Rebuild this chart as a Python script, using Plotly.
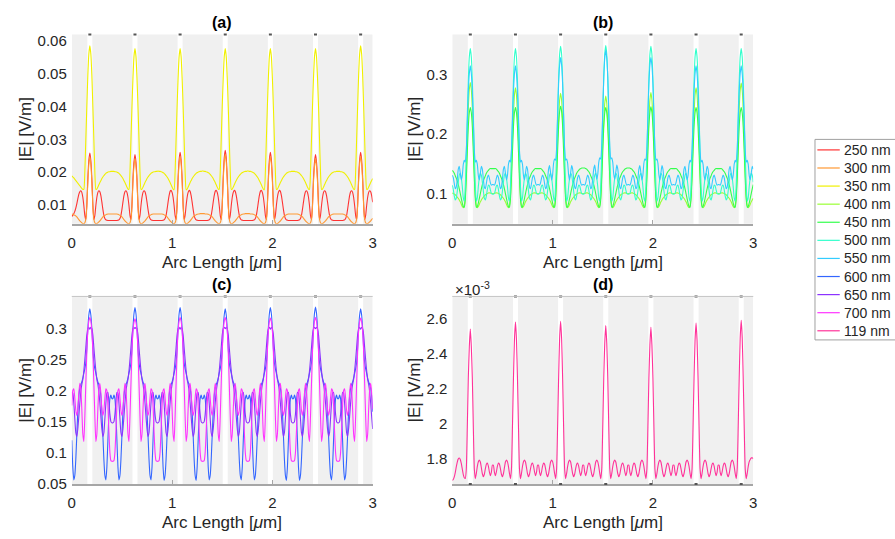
import numpy as np
import plotly.graph_objects as go

# Arc length along the surface, 0.01 µm steps
arc_length = np.round(np.arange(301) * 0.01, 2)

# |E| along the arc (V/m), one row per pillar period
e_250nm = [
    0.0065, 0.0068, 0.0073, 0.0080, 0.0090, 0.0103, 0.0118, 0.0132, 0.0140, 0.0143, 0.0138, 0.0123, 0.0098, 0.0068, 0.0055, 0.0100, 0.0180, 0.0236, 0.0258, 0.0236, 0.0180, 0.0100, 0.0055, 0.0068, 0.0098, 0.0123, 0.0138, 0.0143, 0.0140, 0.0128, 0.0108, 0.0086, 0.0068, 0.0058, 0.0054, 0.0053, 0.0052, 0.0052, 0.0052, 0.0052, 0.0052,
    0.0052, 0.0052, 0.0052, 0.0052, 0.0052, 0.0053, 0.0054, 0.0058, 0.0068, 0.0086, 0.0108, 0.0128, 0.0140, 0.0143, 0.0138, 0.0123, 0.0098, 0.0068, 0.0055, 0.0100, 0.0180, 0.0231, 0.0253, 0.0231, 0.0180, 0.0100, 0.0055, 0.0068, 0.0098, 0.0123, 0.0138, 0.0143, 0.0140, 0.0128, 0.0108, 0.0086, 0.0068, 0.0058, 0.0054, 0.0053, 0.0052, 0.0052, 0.0052, 0.0052, 0.0052,
    0.0052, 0.0052, 0.0052, 0.0052, 0.0052, 0.0053, 0.0054, 0.0058, 0.0068, 0.0086, 0.0108, 0.0128, 0.0141, 0.0144, 0.0138, 0.0123, 0.0098, 0.0068, 0.0055, 0.0100, 0.0182, 0.0238, 0.0260, 0.0238, 0.0182, 0.0100, 0.0055, 0.0068, 0.0098, 0.0123, 0.0138, 0.0144, 0.0141, 0.0128, 0.0108, 0.0086, 0.0068, 0.0058, 0.0054, 0.0053, 0.0052, 0.0052, 0.0052, 0.0052, 0.0052,
    0.0052, 0.0052, 0.0052, 0.0052, 0.0052, 0.0053, 0.0054, 0.0058, 0.0068, 0.0086, 0.0108, 0.0128, 0.0141, 0.0144, 0.0138, 0.0123, 0.0098, 0.0068, 0.0055, 0.0101, 0.0184, 0.0244, 0.0266, 0.0244, 0.0184, 0.0101, 0.0055, 0.0068, 0.0098, 0.0123, 0.0138, 0.0144, 0.0141, 0.0128, 0.0108, 0.0086, 0.0068, 0.0058, 0.0054, 0.0053, 0.0052, 0.0052, 0.0052, 0.0052, 0.0052,
    0.0052, 0.0052, 0.0052, 0.0052, 0.0052, 0.0053, 0.0054, 0.0058, 0.0068, 0.0086, 0.0108, 0.0128, 0.0141, 0.0144, 0.0138, 0.0123, 0.0098, 0.0068, 0.0055, 0.0100, 0.0182, 0.0238, 0.0260, 0.0238, 0.0182, 0.0100, 0.0055, 0.0068, 0.0098, 0.0123, 0.0138, 0.0144, 0.0141, 0.0128, 0.0108, 0.0086, 0.0068, 0.0058, 0.0054, 0.0053, 0.0052, 0.0052, 0.0052, 0.0052, 0.0052,
    0.0052, 0.0052, 0.0052, 0.0052, 0.0052, 0.0053, 0.0054, 0.0058, 0.0068, 0.0086, 0.0108, 0.0128, 0.0140, 0.0143, 0.0138, 0.0123, 0.0098, 0.0068, 0.0055, 0.0100, 0.0180, 0.0231, 0.0253, 0.0231, 0.0180, 0.0100, 0.0055, 0.0068, 0.0098, 0.0123, 0.0138, 0.0143, 0.0140, 0.0128, 0.0108, 0.0086, 0.0068, 0.0058, 0.0054, 0.0053, 0.0052, 0.0052, 0.0052, 0.0052, 0.0052,
    0.0052, 0.0052, 0.0052, 0.0052, 0.0052, 0.0053, 0.0054, 0.0058, 0.0068, 0.0086, 0.0108, 0.0128, 0.0140, 0.0143, 0.0138, 0.0123, 0.0098, 0.0068, 0.0055, 0.0100, 0.0182, 0.0238, 0.0260, 0.0238, 0.0182, 0.0100, 0.0055, 0.0068, 0.0098, 0.0123, 0.0138, 0.0143, 0.0140, 0.0128, 0.0108,
]

e_300nm = [
    0.0072, 0.0071, 0.0070, 0.0068, 0.0066, 0.0063, 0.0059, 0.0055, 0.0051, 0.0048, 0.0045, 0.0043, 0.0042, 0.0045, 0.0056, 0.0095, 0.0170, 0.0222, 0.0247, 0.0222, 0.0170, 0.0095, 0.0056, 0.0045, 0.0042, 0.0043, 0.0045, 0.0048, 0.0051, 0.0055, 0.0059, 0.0063, 0.0066, 0.0068, 0.0070, 0.0071, 0.0072, 0.0072, 0.0072, 0.0072, 0.0072,
    0.0072, 0.0072, 0.0072, 0.0072, 0.0072, 0.0071, 0.0070, 0.0068, 0.0066, 0.0063, 0.0059, 0.0055, 0.0051, 0.0048, 0.0045, 0.0043, 0.0042, 0.0045, 0.0056, 0.0095, 0.0170, 0.0217, 0.0242, 0.0217, 0.0170, 0.0095, 0.0056, 0.0045, 0.0042, 0.0043, 0.0045, 0.0048, 0.0051, 0.0055, 0.0059, 0.0063, 0.0066, 0.0068, 0.0070, 0.0071, 0.0072, 0.0072, 0.0072, 0.0072, 0.0072,
    0.0072, 0.0072, 0.0072, 0.0072, 0.0072, 0.0071, 0.0070, 0.0068, 0.0066, 0.0063, 0.0059, 0.0055, 0.0051, 0.0048, 0.0045, 0.0043, 0.0042, 0.0045, 0.0056, 0.0096, 0.0172, 0.0224, 0.0249, 0.0224, 0.0172, 0.0096, 0.0056, 0.0045, 0.0042, 0.0043, 0.0045, 0.0048, 0.0051, 0.0055, 0.0059, 0.0063, 0.0066, 0.0068, 0.0070, 0.0071, 0.0072, 0.0072, 0.0073, 0.0073, 0.0073,
    0.0073, 0.0073, 0.0072, 0.0072, 0.0072, 0.0071, 0.0070, 0.0068, 0.0066, 0.0063, 0.0059, 0.0055, 0.0051, 0.0048, 0.0045, 0.0043, 0.0042, 0.0045, 0.0057, 0.0097, 0.0175, 0.0230, 0.0255, 0.0230, 0.0175, 0.0097, 0.0057, 0.0045, 0.0042, 0.0043, 0.0045, 0.0048, 0.0051, 0.0055, 0.0059, 0.0063, 0.0066, 0.0068, 0.0070, 0.0071, 0.0072, 0.0072, 0.0073, 0.0073, 0.0073,
    0.0073, 0.0073, 0.0072, 0.0072, 0.0072, 0.0071, 0.0070, 0.0068, 0.0066, 0.0063, 0.0059, 0.0055, 0.0051, 0.0048, 0.0045, 0.0043, 0.0042, 0.0045, 0.0056, 0.0096, 0.0172, 0.0224, 0.0249, 0.0224, 0.0172, 0.0096, 0.0056, 0.0045, 0.0042, 0.0043, 0.0045, 0.0048, 0.0051, 0.0055, 0.0059, 0.0063, 0.0066, 0.0068, 0.0070, 0.0071, 0.0072, 0.0072, 0.0072, 0.0072, 0.0072,
    0.0072, 0.0072, 0.0072, 0.0072, 0.0072, 0.0071, 0.0070, 0.0068, 0.0066, 0.0063, 0.0059, 0.0055, 0.0051, 0.0048, 0.0045, 0.0043, 0.0042, 0.0045, 0.0056, 0.0095, 0.0170, 0.0217, 0.0242, 0.0217, 0.0170, 0.0095, 0.0056, 0.0045, 0.0042, 0.0043, 0.0045, 0.0048, 0.0051, 0.0055, 0.0059, 0.0063, 0.0066, 0.0068, 0.0070, 0.0071, 0.0072, 0.0072, 0.0072, 0.0072, 0.0072,
    0.0072, 0.0072, 0.0072, 0.0072, 0.0072, 0.0071, 0.0070, 0.0068, 0.0066, 0.0063, 0.0059, 0.0055, 0.0051, 0.0048, 0.0045, 0.0043, 0.0042, 0.0045, 0.0056, 0.0096, 0.0172, 0.0224, 0.0249, 0.0224, 0.0172, 0.0096, 0.0056, 0.0045, 0.0042, 0.0043, 0.0045, 0.0048, 0.0051, 0.0055, 0.0059,
]

e_350nm = [
    0.0188, 0.0185, 0.0182, 0.0178, 0.0174, 0.0170, 0.0166, 0.0162, 0.0158, 0.0154, 0.0150, 0.0147, 0.0147, 0.0200, 0.0300, 0.0400, 0.0495, 0.0560, 0.0585, 0.0560, 0.0495, 0.0400, 0.0300, 0.0200, 0.0147, 0.0148, 0.0154, 0.0161, 0.0168, 0.0174, 0.0180, 0.0185, 0.0189, 0.0193, 0.0196, 0.0198, 0.0200, 0.0201, 0.0201, 0.0202, 0.0202,
    0.0202, 0.0202, 0.0201, 0.0201, 0.0200, 0.0198, 0.0196, 0.0193, 0.0189, 0.0185, 0.0180, 0.0174, 0.0168, 0.0161, 0.0154, 0.0148, 0.0147, 0.0200, 0.0300, 0.0400, 0.0487, 0.0552, 0.0577, 0.0552, 0.0487, 0.0400, 0.0300, 0.0200, 0.0147, 0.0148, 0.0154, 0.0161, 0.0168, 0.0174, 0.0180, 0.0185, 0.0189, 0.0193, 0.0196, 0.0198, 0.0200, 0.0201, 0.0201, 0.0202, 0.0202,
    0.0203, 0.0202, 0.0202, 0.0201, 0.0200, 0.0198, 0.0196, 0.0193, 0.0189, 0.0185, 0.0180, 0.0174, 0.0168, 0.0161, 0.0154, 0.0148, 0.0146, 0.0200, 0.0300, 0.0400, 0.0487, 0.0552, 0.0577, 0.0552, 0.0487, 0.0400, 0.0300, 0.0200, 0.0146, 0.0148, 0.0154, 0.0161, 0.0168, 0.0174, 0.0180, 0.0185, 0.0189, 0.0193, 0.0196, 0.0198, 0.0200, 0.0201, 0.0202, 0.0202, 0.0203,
    0.0203, 0.0202, 0.0202, 0.0201, 0.0200, 0.0198, 0.0196, 0.0193, 0.0189, 0.0185, 0.0180, 0.0174, 0.0168, 0.0161, 0.0154, 0.0148, 0.0147, 0.0200, 0.0300, 0.0400, 0.0487, 0.0552, 0.0577, 0.0552, 0.0487, 0.0400, 0.0300, 0.0200, 0.0147, 0.0148, 0.0154, 0.0161, 0.0168, 0.0174, 0.0180, 0.0185, 0.0189, 0.0193, 0.0196, 0.0198, 0.0200, 0.0201, 0.0202, 0.0202, 0.0203,
    0.0203, 0.0202, 0.0202, 0.0201, 0.0200, 0.0198, 0.0196, 0.0193, 0.0189, 0.0185, 0.0180, 0.0174, 0.0168, 0.0161, 0.0154, 0.0148, 0.0146, 0.0200, 0.0300, 0.0400, 0.0487, 0.0552, 0.0577, 0.0552, 0.0487, 0.0400, 0.0300, 0.0200, 0.0147, 0.0148, 0.0154, 0.0161, 0.0168, 0.0174, 0.0180, 0.0185, 0.0189, 0.0193, 0.0196, 0.0198, 0.0200, 0.0201, 0.0201, 0.0202, 0.0202,
    0.0202, 0.0202, 0.0201, 0.0201, 0.0200, 0.0198, 0.0196, 0.0193, 0.0189, 0.0185, 0.0180, 0.0174, 0.0168, 0.0161, 0.0154, 0.0148, 0.0147, 0.0200, 0.0300, 0.0400, 0.0487, 0.0552, 0.0577, 0.0552, 0.0487, 0.0400, 0.0300, 0.0200, 0.0147, 0.0148, 0.0154, 0.0161, 0.0168, 0.0174, 0.0180, 0.0185, 0.0189, 0.0193, 0.0196, 0.0198, 0.0200, 0.0201, 0.0201, 0.0202, 0.0202,
    0.0202, 0.0202, 0.0201, 0.0201, 0.0200, 0.0198, 0.0196, 0.0193, 0.0189, 0.0185, 0.0180, 0.0174, 0.0168, 0.0161, 0.0154, 0.0148, 0.0147, 0.0200, 0.0300, 0.0400, 0.0495, 0.0560, 0.0585, 0.0560, 0.0495, 0.0400, 0.0300, 0.0200, 0.0147, 0.0148, 0.0154, 0.0161, 0.0168, 0.0174, 0.0180,
]

e_400nm = [
    0.101, 0.100, 0.099, 0.098, 0.096, 0.094, 0.092, 0.089, 0.086, 0.082, 0.078, 0.076, 0.080, 0.096, 0.136, 0.190, 0.242, 0.275, 0.287, 0.275, 0.242, 0.190, 0.136, 0.096, 0.080, 0.076, 0.078, 0.082, 0.086, 0.089, 0.092, 0.094, 0.096, 0.098, 0.099, 0.100, 0.101, 0.101, 0.101, 0.100, 0.100,
    0.100, 0.100, 0.101, 0.101, 0.101, 0.100, 0.099, 0.098, 0.096, 0.094, 0.092, 0.089, 0.086, 0.082, 0.078, 0.076, 0.080, 0.096, 0.136, 0.190, 0.233, 0.266, 0.278, 0.266, 0.233, 0.190, 0.136, 0.096, 0.080, 0.076, 0.078, 0.082, 0.086, 0.089, 0.092, 0.094, 0.096, 0.098, 0.099, 0.100, 0.101, 0.101, 0.101, 0.100, 0.100,
    0.100, 0.100, 0.101, 0.101, 0.101, 0.100, 0.099, 0.098, 0.096, 0.094, 0.092, 0.089, 0.086, 0.082, 0.078, 0.076, 0.080, 0.096, 0.136, 0.188, 0.224, 0.257, 0.269, 0.257, 0.224, 0.188, 0.136, 0.096, 0.080, 0.076, 0.078, 0.082, 0.086, 0.089, 0.092, 0.094, 0.096, 0.098, 0.099, 0.100, 0.101, 0.101, 0.101, 0.100, 0.100,
    0.100, 0.100, 0.101, 0.101, 0.101, 0.100, 0.099, 0.098, 0.096, 0.094, 0.092, 0.089, 0.086, 0.082, 0.078, 0.076, 0.080, 0.096, 0.135, 0.186, 0.219, 0.252, 0.264, 0.252, 0.219, 0.186, 0.135, 0.096, 0.080, 0.076, 0.078, 0.082, 0.086, 0.089, 0.092, 0.094, 0.096, 0.098, 0.099, 0.100, 0.101, 0.101, 0.101, 0.100, 0.100,
    0.100, 0.100, 0.101, 0.101, 0.101, 0.100, 0.099, 0.098, 0.096, 0.094, 0.092, 0.089, 0.086, 0.082, 0.078, 0.076, 0.080, 0.096, 0.136, 0.188, 0.225, 0.258, 0.270, 0.258, 0.225, 0.188, 0.136, 0.096, 0.080, 0.076, 0.078, 0.082, 0.086, 0.089, 0.092, 0.094, 0.096, 0.098, 0.099, 0.100, 0.101, 0.101, 0.101, 0.100, 0.100,
    0.100, 0.100, 0.101, 0.101, 0.101, 0.100, 0.099, 0.098, 0.096, 0.094, 0.092, 0.089, 0.086, 0.082, 0.078, 0.076, 0.080, 0.096, 0.136, 0.190, 0.233, 0.266, 0.278, 0.266, 0.233, 0.190, 0.136, 0.096, 0.080, 0.076, 0.078, 0.082, 0.086, 0.089, 0.092, 0.094, 0.096, 0.098, 0.099, 0.100, 0.101, 0.101, 0.101, 0.100, 0.100,
    0.100, 0.100, 0.101, 0.101, 0.101, 0.100, 0.099, 0.098, 0.096, 0.094, 0.092, 0.089, 0.086, 0.082, 0.078, 0.076, 0.080, 0.096, 0.136, 0.190, 0.241, 0.274, 0.286, 0.274, 0.241, 0.190, 0.136, 0.096, 0.080, 0.076, 0.078, 0.082, 0.086, 0.089, 0.092,
]

e_450nm = [
    0.139, 0.137, 0.134, 0.130, 0.126, 0.121, 0.115, 0.108, 0.100, 0.092, 0.084, 0.078, 0.077, 0.091, 0.126, 0.170, 0.212, 0.236, 0.245, 0.236, 0.212, 0.170, 0.126, 0.091, 0.077, 0.078, 0.084, 0.092, 0.100, 0.108, 0.115, 0.121, 0.126, 0.130, 0.134, 0.137, 0.139, 0.141, 0.142, 0.142, 0.142,
    0.142, 0.142, 0.142, 0.141, 0.139, 0.137, 0.134, 0.130, 0.126, 0.121, 0.115, 0.108, 0.100, 0.092, 0.084, 0.078, 0.077, 0.091, 0.126, 0.170, 0.212, 0.236, 0.245, 0.236, 0.212, 0.170, 0.126, 0.091, 0.077, 0.078, 0.084, 0.092, 0.100, 0.108, 0.115, 0.121, 0.126, 0.130, 0.134, 0.137, 0.139, 0.141, 0.142, 0.142, 0.142,
    0.142, 0.142, 0.142, 0.141, 0.139, 0.137, 0.134, 0.130, 0.126, 0.121, 0.115, 0.108, 0.100, 0.092, 0.084, 0.078, 0.077, 0.091, 0.126, 0.171, 0.213, 0.238, 0.247, 0.238, 0.213, 0.171, 0.126, 0.091, 0.077, 0.078, 0.084, 0.092, 0.100, 0.108, 0.115, 0.121, 0.126, 0.130, 0.134, 0.137, 0.139, 0.141, 0.142, 0.143, 0.143,
    0.143, 0.143, 0.142, 0.141, 0.139, 0.137, 0.134, 0.130, 0.126, 0.121, 0.115, 0.108, 0.100, 0.092, 0.084, 0.078, 0.077, 0.091, 0.126, 0.170, 0.212, 0.236, 0.245, 0.236, 0.212, 0.170, 0.126, 0.091, 0.077, 0.078, 0.084, 0.092, 0.100, 0.108, 0.115, 0.121, 0.126, 0.130, 0.134, 0.137, 0.139, 0.141, 0.142, 0.143, 0.143,
    0.143, 0.143, 0.142, 0.141, 0.139, 0.137, 0.134, 0.130, 0.126, 0.121, 0.115, 0.108, 0.100, 0.092, 0.084, 0.078, 0.077, 0.091, 0.126, 0.170, 0.213, 0.237, 0.246, 0.237, 0.213, 0.170, 0.126, 0.091, 0.077, 0.078, 0.084, 0.092, 0.100, 0.108, 0.115, 0.121, 0.126, 0.130, 0.134, 0.137, 0.139, 0.141, 0.142, 0.142, 0.142,
    0.142, 0.142, 0.142, 0.141, 0.139, 0.137, 0.134, 0.130, 0.126, 0.121, 0.115, 0.108, 0.100, 0.092, 0.084, 0.078, 0.077, 0.091, 0.126, 0.170, 0.212, 0.236, 0.245, 0.236, 0.212, 0.170, 0.126, 0.091, 0.077, 0.078, 0.084, 0.092, 0.100, 0.108, 0.115, 0.121, 0.126, 0.130, 0.134, 0.137, 0.139, 0.141, 0.142, 0.142, 0.142,
    0.142, 0.142, 0.142, 0.141, 0.139, 0.137, 0.134, 0.130, 0.126, 0.121, 0.115, 0.108, 0.100, 0.092, 0.084, 0.078, 0.077, 0.091, 0.126, 0.170, 0.212, 0.236, 0.245, 0.236, 0.212, 0.170, 0.126, 0.091, 0.077, 0.078, 0.084, 0.092, 0.100, 0.108, 0.115,
]

e_500nm = [
    0.114, 0.107, 0.096, 0.089, 0.092, 0.104, 0.119, 0.131, 0.134, 0.127, 0.112, 0.093, 0.087, 0.112, 0.168, 0.232, 0.290, 0.330, 0.344, 0.330, 0.290, 0.232, 0.168, 0.112, 0.087, 0.093, 0.112, 0.127, 0.134, 0.131, 0.119, 0.104, 0.092, 0.089, 0.096, 0.107, 0.114, 0.113, 0.106, 0.100, 0.099,
    0.099, 0.100, 0.106, 0.113, 0.114, 0.107, 0.096, 0.089, 0.092, 0.104, 0.119, 0.131, 0.134, 0.127, 0.112, 0.093, 0.087, 0.112, 0.168, 0.232, 0.290, 0.330, 0.344, 0.330, 0.290, 0.232, 0.168, 0.112, 0.087, 0.093, 0.112, 0.127, 0.134, 0.131, 0.119, 0.104, 0.092, 0.089, 0.096, 0.107, 0.114, 0.113, 0.106, 0.100, 0.099,
    0.099, 0.100, 0.106, 0.113, 0.114, 0.107, 0.096, 0.089, 0.092, 0.104, 0.119, 0.131, 0.134, 0.127, 0.112, 0.093, 0.087, 0.112, 0.169, 0.234, 0.293, 0.334, 0.348, 0.334, 0.293, 0.234, 0.169, 0.112, 0.087, 0.093, 0.112, 0.127, 0.134, 0.131, 0.119, 0.104, 0.092, 0.089, 0.096, 0.107, 0.114, 0.113, 0.106, 0.100, 0.099,
    0.099, 0.100, 0.106, 0.113, 0.114, 0.107, 0.096, 0.089, 0.092, 0.104, 0.119, 0.131, 0.134, 0.127, 0.112, 0.093, 0.087, 0.112, 0.169, 0.235, 0.294, 0.335, 0.349, 0.335, 0.294, 0.235, 0.169, 0.112, 0.087, 0.093, 0.112, 0.127, 0.134, 0.131, 0.119, 0.104, 0.092, 0.089, 0.096, 0.107, 0.114, 0.113, 0.106, 0.100, 0.099,
    0.099, 0.100, 0.106, 0.113, 0.114, 0.107, 0.096, 0.089, 0.092, 0.104, 0.119, 0.131, 0.134, 0.127, 0.112, 0.093, 0.087, 0.112, 0.169, 0.234, 0.293, 0.334, 0.348, 0.334, 0.293, 0.234, 0.169, 0.112, 0.087, 0.093, 0.112, 0.127, 0.134, 0.131, 0.119, 0.104, 0.092, 0.089, 0.096, 0.107, 0.114, 0.113, 0.106, 0.100, 0.099,
    0.099, 0.100, 0.106, 0.113, 0.114, 0.107, 0.096, 0.089, 0.092, 0.104, 0.119, 0.131, 0.134, 0.127, 0.112, 0.093, 0.087, 0.112, 0.168, 0.232, 0.290, 0.330, 0.344, 0.330, 0.290, 0.232, 0.168, 0.112, 0.087, 0.093, 0.112, 0.127, 0.134, 0.131, 0.119, 0.104, 0.092, 0.089, 0.096, 0.107, 0.114, 0.113, 0.106, 0.100, 0.099,
    0.099, 0.100, 0.106, 0.113, 0.114, 0.107, 0.096, 0.089, 0.092, 0.104, 0.119, 0.131, 0.134, 0.127, 0.112, 0.093, 0.087, 0.112, 0.168, 0.232, 0.290, 0.330, 0.344, 0.330, 0.290, 0.232, 0.168, 0.112, 0.087, 0.093, 0.112, 0.127, 0.134, 0.131, 0.119,
]

e_550nm = [
    0.131, 0.127, 0.117, 0.108, 0.111, 0.124, 0.141, 0.146, 0.134, 0.123, 0.130, 0.149, 0.156, 0.153, 0.172, 0.220, 0.270, 0.302, 0.315, 0.302, 0.270, 0.220, 0.172, 0.153, 0.156, 0.149, 0.130, 0.123, 0.134, 0.146, 0.141, 0.124, 0.111, 0.108, 0.117, 0.127, 0.131, 0.126, 0.118, 0.114, 0.115,
    0.115, 0.114, 0.118, 0.126, 0.131, 0.127, 0.117, 0.108, 0.111, 0.124, 0.141, 0.146, 0.134, 0.123, 0.130, 0.149, 0.156, 0.153, 0.172, 0.220, 0.270, 0.302, 0.315, 0.302, 0.270, 0.220, 0.172, 0.153, 0.156, 0.149, 0.130, 0.123, 0.134, 0.146, 0.141, 0.124, 0.111, 0.108, 0.117, 0.127, 0.131, 0.126, 0.118, 0.114, 0.115,
    0.115, 0.114, 0.118, 0.126, 0.131, 0.127, 0.117, 0.108, 0.111, 0.124, 0.141, 0.147, 0.135, 0.123, 0.131, 0.151, 0.158, 0.156, 0.176, 0.228, 0.284, 0.316, 0.329, 0.316, 0.284, 0.228, 0.176, 0.156, 0.158, 0.151, 0.131, 0.123, 0.135, 0.147, 0.141, 0.124, 0.111, 0.108, 0.117, 0.127, 0.131, 0.126, 0.118, 0.114, 0.115,
    0.115, 0.114, 0.118, 0.126, 0.131, 0.127, 0.117, 0.108, 0.111, 0.124, 0.141, 0.148, 0.136, 0.124, 0.132, 0.152, 0.160, 0.158, 0.180, 0.236, 0.296, 0.328, 0.341, 0.328, 0.296, 0.236, 0.180, 0.158, 0.160, 0.152, 0.132, 0.124, 0.136, 0.148, 0.141, 0.124, 0.111, 0.108, 0.117, 0.127, 0.131, 0.126, 0.118, 0.114, 0.115,
    0.115, 0.114, 0.118, 0.126, 0.131, 0.127, 0.117, 0.108, 0.111, 0.124, 0.141, 0.147, 0.135, 0.123, 0.131, 0.151, 0.158, 0.156, 0.176, 0.228, 0.284, 0.316, 0.329, 0.316, 0.284, 0.228, 0.176, 0.156, 0.158, 0.151, 0.131, 0.123, 0.135, 0.147, 0.141, 0.124, 0.111, 0.108, 0.117, 0.127, 0.131, 0.126, 0.118, 0.114, 0.115,
    0.115, 0.114, 0.118, 0.126, 0.131, 0.127, 0.117, 0.108, 0.111, 0.124, 0.141, 0.146, 0.134, 0.123, 0.130, 0.149, 0.156, 0.153, 0.172, 0.220, 0.270, 0.302, 0.315, 0.302, 0.270, 0.220, 0.172, 0.153, 0.156, 0.149, 0.130, 0.123, 0.134, 0.146, 0.141, 0.124, 0.111, 0.108, 0.117, 0.127, 0.131, 0.126, 0.118, 0.114, 0.115,
    0.115, 0.114, 0.118, 0.126, 0.131, 0.127, 0.117, 0.108, 0.111, 0.124, 0.141, 0.146, 0.134, 0.123, 0.130, 0.149, 0.156, 0.153, 0.172, 0.220, 0.270, 0.302, 0.315, 0.302, 0.270, 0.220, 0.172, 0.153, 0.156, 0.149, 0.130, 0.123, 0.134, 0.146, 0.141,
]

e_600nm = [
    0.120, 0.077, 0.056, 0.063, 0.089, 0.128, 0.166, 0.191, 0.204, 0.210, 0.214, 0.220, 0.228, 0.235, 0.245, 0.268, 0.300, 0.322, 0.332, 0.322, 0.300, 0.268, 0.245, 0.235, 0.228, 0.220, 0.214, 0.210, 0.204, 0.191, 0.166, 0.128, 0.089, 0.063, 0.056, 0.077, 0.120, 0.162, 0.187, 0.193, 0.187,
    0.187, 0.193, 0.187, 0.162, 0.120, 0.077, 0.056, 0.063, 0.089, 0.128, 0.166, 0.191, 0.204, 0.210, 0.214, 0.220, 0.228, 0.235, 0.245, 0.268, 0.301, 0.324, 0.334, 0.324, 0.301, 0.268, 0.245, 0.235, 0.228, 0.220, 0.214, 0.210, 0.204, 0.191, 0.166, 0.128, 0.089, 0.063, 0.056, 0.077, 0.120, 0.162, 0.187, 0.193, 0.187,
    0.187, 0.193, 0.187, 0.162, 0.120, 0.077, 0.055, 0.063, 0.089, 0.128, 0.166, 0.191, 0.204, 0.210, 0.214, 0.220, 0.228, 0.235, 0.245, 0.268, 0.301, 0.324, 0.334, 0.324, 0.301, 0.268, 0.245, 0.235, 0.228, 0.220, 0.214, 0.210, 0.204, 0.191, 0.166, 0.128, 0.089, 0.063, 0.055, 0.077, 0.120, 0.162, 0.187, 0.193, 0.187,
    0.187, 0.193, 0.187, 0.162, 0.120, 0.077, 0.056, 0.063, 0.089, 0.128, 0.166, 0.191, 0.204, 0.210, 0.214, 0.220, 0.228, 0.235, 0.245, 0.268, 0.300, 0.322, 0.332, 0.322, 0.300, 0.268, 0.245, 0.235, 0.228, 0.220, 0.214, 0.210, 0.204, 0.191, 0.166, 0.128, 0.089, 0.063, 0.056, 0.077, 0.120, 0.162, 0.187, 0.193, 0.187,
    0.187, 0.193, 0.187, 0.162, 0.120, 0.077, 0.056, 0.063, 0.089, 0.128, 0.166, 0.191, 0.204, 0.210, 0.214, 0.220, 0.228, 0.235, 0.245, 0.268, 0.301, 0.324, 0.334, 0.324, 0.301, 0.268, 0.245, 0.235, 0.228, 0.220, 0.214, 0.210, 0.204, 0.191, 0.166, 0.128, 0.089, 0.063, 0.055, 0.077, 0.120, 0.162, 0.187, 0.193, 0.187,
    0.187, 0.193, 0.187, 0.162, 0.120, 0.077, 0.055, 0.063, 0.089, 0.128, 0.166, 0.191, 0.204, 0.210, 0.214, 0.220, 0.228, 0.235, 0.245, 0.268, 0.302, 0.325, 0.335, 0.325, 0.302, 0.268, 0.245, 0.235, 0.228, 0.220, 0.214, 0.210, 0.204, 0.191, 0.166, 0.128, 0.089, 0.063, 0.056, 0.077, 0.120, 0.162, 0.187, 0.193, 0.187,
    0.187, 0.193, 0.187, 0.162, 0.120, 0.077, 0.056, 0.063, 0.089, 0.128, 0.166, 0.191, 0.204, 0.210, 0.214, 0.220, 0.228, 0.235, 0.245, 0.268, 0.300, 0.322, 0.332, 0.322, 0.300, 0.268, 0.245, 0.235, 0.228, 0.220, 0.214, 0.210, 0.204, 0.191, 0.166,
]

e_650nm = [
    0.197, 0.196, 0.180, 0.155, 0.132, 0.126, 0.138, 0.158, 0.180, 0.198, 0.210, 0.218, 0.232, 0.250, 0.270, 0.290, 0.300, 0.302, 0.299, 0.302, 0.300, 0.290, 0.270, 0.250, 0.232, 0.218, 0.210, 0.198, 0.180, 0.158, 0.138, 0.126, 0.132, 0.155, 0.180, 0.196, 0.197, 0.182, 0.162, 0.150, 0.148,
    0.148, 0.150, 0.162, 0.182, 0.197, 0.196, 0.180, 0.155, 0.132, 0.126, 0.138, 0.158, 0.180, 0.198, 0.210, 0.218, 0.232, 0.250, 0.270, 0.290, 0.300, 0.302, 0.300, 0.302, 0.300, 0.290, 0.270, 0.250, 0.232, 0.218, 0.210, 0.198, 0.180, 0.158, 0.138, 0.126, 0.132, 0.155, 0.180, 0.196, 0.197, 0.182, 0.162, 0.150, 0.148,
    0.148, 0.150, 0.162, 0.182, 0.197, 0.196, 0.180, 0.155, 0.132, 0.126, 0.138, 0.158, 0.180, 0.198, 0.210, 0.218, 0.232, 0.250, 0.270, 0.290, 0.300, 0.302, 0.299, 0.302, 0.300, 0.290, 0.270, 0.250, 0.232, 0.218, 0.210, 0.198, 0.180, 0.158, 0.138, 0.126, 0.132, 0.155, 0.180, 0.196, 0.197, 0.182, 0.162, 0.150, 0.148,
    0.148, 0.150, 0.162, 0.182, 0.197, 0.196, 0.180, 0.155, 0.132, 0.126, 0.138, 0.158, 0.180, 0.198, 0.210, 0.218, 0.232, 0.250, 0.270, 0.290, 0.300, 0.302, 0.300, 0.302, 0.300, 0.290, 0.270, 0.250, 0.232, 0.218, 0.210, 0.198, 0.180, 0.158, 0.138, 0.126, 0.132, 0.155, 0.180, 0.196, 0.197, 0.182, 0.162, 0.150, 0.148,
    0.148, 0.150, 0.162, 0.182, 0.197, 0.196, 0.180, 0.155, 0.132, 0.126, 0.138, 0.158, 0.180, 0.198, 0.210, 0.218, 0.232, 0.250, 0.270, 0.290, 0.300, 0.302, 0.299, 0.302, 0.300, 0.290, 0.270, 0.250, 0.232, 0.218, 0.210, 0.198, 0.180, 0.158, 0.138, 0.126, 0.132, 0.155, 0.180, 0.196, 0.197, 0.182, 0.162, 0.150, 0.148,
    0.148, 0.150, 0.162, 0.182, 0.197, 0.196, 0.180, 0.155, 0.132, 0.126, 0.138, 0.158, 0.180, 0.198, 0.210, 0.218, 0.232, 0.250, 0.270, 0.290, 0.300, 0.302, 0.300, 0.302, 0.300, 0.290, 0.270, 0.250, 0.232, 0.218, 0.210, 0.198, 0.180, 0.158, 0.138, 0.126, 0.132, 0.155, 0.180, 0.196, 0.197, 0.182, 0.162, 0.150, 0.148,
    0.148, 0.150, 0.162, 0.182, 0.197, 0.196, 0.180, 0.155, 0.132, 0.126, 0.138, 0.158, 0.180, 0.198, 0.210, 0.218, 0.232, 0.250, 0.270, 0.290, 0.300, 0.302, 0.299, 0.302, 0.300, 0.290, 0.270, 0.250, 0.232, 0.218, 0.210, 0.198, 0.180, 0.158, 0.138,
]

e_700nm = [
    0.176, 0.200, 0.203, 0.188, 0.168, 0.160, 0.170, 0.196, 0.212, 0.202, 0.170, 0.130, 0.118, 0.158, 0.212, 0.262, 0.296, 0.312, 0.318, 0.312, 0.296, 0.262, 0.212, 0.158, 0.118, 0.130, 0.170, 0.202, 0.212, 0.196, 0.170, 0.160, 0.168, 0.188, 0.203, 0.200, 0.176, 0.135, 0.100, 0.087, 0.086,
    0.086, 0.087, 0.100, 0.135, 0.176, 0.200, 0.203, 0.188, 0.168, 0.160, 0.170, 0.196, 0.212, 0.202, 0.170, 0.130, 0.118, 0.158, 0.212, 0.262, 0.296, 0.310, 0.316, 0.310, 0.296, 0.262, 0.212, 0.158, 0.118, 0.130, 0.170, 0.202, 0.212, 0.196, 0.170, 0.160, 0.168, 0.188, 0.203, 0.200, 0.176, 0.135, 0.100, 0.087, 0.086,
    0.086, 0.087, 0.100, 0.135, 0.176, 0.200, 0.203, 0.188, 0.168, 0.160, 0.170, 0.196, 0.212, 0.202, 0.170, 0.130, 0.118, 0.158, 0.212, 0.262, 0.296, 0.312, 0.318, 0.312, 0.296, 0.262, 0.212, 0.158, 0.118, 0.130, 0.170, 0.202, 0.212, 0.196, 0.170, 0.160, 0.168, 0.188, 0.203, 0.200, 0.176, 0.135, 0.100, 0.087, 0.086,
    0.086, 0.087, 0.100, 0.135, 0.176, 0.200, 0.203, 0.188, 0.168, 0.160, 0.170, 0.196, 0.212, 0.202, 0.170, 0.130, 0.118, 0.158, 0.212, 0.262, 0.296, 0.312, 0.318, 0.312, 0.296, 0.262, 0.212, 0.158, 0.118, 0.130, 0.170, 0.202, 0.212, 0.196, 0.170, 0.160, 0.168, 0.188, 0.203, 0.200, 0.176, 0.135, 0.100, 0.087, 0.086,
    0.086, 0.087, 0.100, 0.135, 0.176, 0.200, 0.203, 0.188, 0.168, 0.160, 0.170, 0.196, 0.212, 0.202, 0.170, 0.130, 0.118, 0.158, 0.212, 0.262, 0.296, 0.311, 0.317, 0.311, 0.296, 0.262, 0.212, 0.158, 0.118, 0.130, 0.170, 0.202, 0.212, 0.196, 0.170, 0.160, 0.168, 0.188, 0.203, 0.200, 0.176, 0.135, 0.100, 0.087, 0.086,
    0.086, 0.087, 0.100, 0.135, 0.176, 0.200, 0.203, 0.188, 0.168, 0.160, 0.170, 0.196, 0.212, 0.202, 0.170, 0.130, 0.118, 0.158, 0.212, 0.262, 0.296, 0.312, 0.318, 0.312, 0.296, 0.262, 0.212, 0.158, 0.118, 0.130, 0.170, 0.202, 0.212, 0.196, 0.170, 0.160, 0.168, 0.188, 0.203, 0.200, 0.176, 0.135, 0.100, 0.087, 0.086,
    0.086, 0.087, 0.100, 0.135, 0.176, 0.200, 0.203, 0.188, 0.168, 0.160, 0.170, 0.196, 0.212, 0.202, 0.170, 0.130, 0.118, 0.158, 0.212, 0.262, 0.296, 0.311, 0.317, 0.311, 0.296, 0.262, 0.212, 0.158, 0.118, 0.130, 0.170, 0.202, 0.212, 0.196, 0.170,
]

# 119 nm response, in units of 1e-3 V/m
e_119nm_milli = [
    1.675, 1.680, 1.695, 1.720, 1.752, 1.780, 1.798, 1.803, 1.795, 1.772, 1.740, 1.708, 1.690, 1.686, 1.740, 1.980, 2.260, 2.440, 2.540, 2.440, 2.260, 1.980, 1.740, 1.685, 1.715, 1.755, 1.782, 1.792, 1.780, 1.748, 1.713, 1.696, 1.710, 1.742, 1.768, 1.774, 1.757, 1.724, 1.702, 1.722, 1.762,
    1.762, 1.722, 1.702, 1.724, 1.757, 1.774, 1.768, 1.742, 1.710, 1.696, 1.713, 1.748, 1.780, 1.792, 1.782, 1.755, 1.715, 1.685, 1.740, 1.980, 2.260, 2.480, 2.580, 2.480, 2.260, 1.980, 1.740, 1.685, 1.715, 1.755, 1.782, 1.792, 1.780, 1.748, 1.713, 1.696, 1.710, 1.742, 1.768, 1.774, 1.757, 1.724, 1.702, 1.722, 1.762,
    1.762, 1.722, 1.702, 1.724, 1.757, 1.774, 1.768, 1.742, 1.710, 1.696, 1.713, 1.748, 1.780, 1.792, 1.782, 1.755, 1.715, 1.685, 1.740, 1.980, 2.260, 2.485, 2.585, 2.485, 2.260, 1.980, 1.740, 1.685, 1.715, 1.755, 1.782, 1.792, 1.780, 1.748, 1.713, 1.696, 1.710, 1.742, 1.768, 1.774, 1.757, 1.724, 1.702, 1.722, 1.762,
    1.762, 1.722, 1.702, 1.724, 1.757, 1.774, 1.768, 1.742, 1.710, 1.696, 1.713, 1.748, 1.780, 1.792, 1.782, 1.755, 1.715, 1.685, 1.740, 1.980, 2.260, 2.460, 2.560, 2.460, 2.260, 1.980, 1.740, 1.685, 1.715, 1.755, 1.782, 1.792, 1.780, 1.748, 1.713, 1.696, 1.710, 1.742, 1.768, 1.774, 1.757, 1.724, 1.702, 1.722, 1.762,
    1.762, 1.722, 1.702, 1.724, 1.757, 1.774, 1.768, 1.742, 1.710, 1.696, 1.713, 1.748, 1.780, 1.792, 1.782, 1.755, 1.715, 1.685, 1.740, 1.980, 2.260, 2.450, 2.550, 2.450, 2.260, 1.980, 1.740, 1.685, 1.715, 1.755, 1.782, 1.792, 1.780, 1.748, 1.713, 1.696, 1.710, 1.742, 1.768, 1.774, 1.757, 1.724, 1.702, 1.722, 1.762,
    1.762, 1.722, 1.702, 1.724, 1.757, 1.774, 1.768, 1.742, 1.710, 1.696, 1.713, 1.748, 1.780, 1.792, 1.782, 1.755, 1.715, 1.685, 1.740, 1.980, 2.260, 2.475, 2.575, 2.475, 2.260, 1.980, 1.740, 1.685, 1.715, 1.755, 1.782, 1.792, 1.780, 1.748, 1.713, 1.696, 1.710, 1.742, 1.768, 1.774, 1.757, 1.724, 1.702, 1.722, 1.762,
    1.762, 1.722, 1.702, 1.724, 1.757, 1.774, 1.768, 1.742, 1.710, 1.696, 1.713, 1.748, 1.780, 1.792, 1.782, 1.755, 1.715, 1.685, 1.740, 1.980, 2.260, 2.490, 2.590, 2.490, 2.260, 1.980, 1.740, 1.685, 1.715, 1.755, 1.782, 1.795, 1.803, 1.805, 1.798,
]

wavelength_labels = ["250 nm", "300 nm", "350 nm", "400 nm", "450 nm", "500 nm",
                     "550 nm", "600 nm", "650 nm", "700 nm", "119 nm"]
line_colors = ["#ff3333", "#ff9933", "#f0f000", "#99ff33", "#33ff4d", "#33ffcc",
               "#33ccff", "#3366ff", "#8c33ff", "#ff33ff", "#ff3399"]

# centres of the gaps between the grey blocks (µm) and their half width
gap_centers = [0.18, 0.63, 1.08, 1.53, 1.98, 2.43, 2.88]
gap_half = 0.025

series = {
    "250 nm": e_250nm, "300 nm": e_300nm, "350 nm": e_350nm,
    "400 nm": e_400nm, "450 nm": e_450nm, "500 nm": e_500nm, "550 nm": e_550nm,
    "600 nm": e_600nm, "650 nm": e_650nm, "700 nm": e_700nm,
    "119 nm": e_119nm_milli,
}
for k, v in series.items():
    assert len(v) == len(arc_length), (k, len(v))
color_of = dict(zip(wavelength_labels, line_colors))

W, H = 895, 539
def fx(px):
    return px / W
def fy(py):
    return 1 - py / H

cols = {"L": (68.4, 372.0), "R": (452.3, 756.0)}
rows = {"T": (33.0, 226.0), "B": (300.0, 491.0)}
ylabel_x = {"L": 21.7, "R": 414.0}

panels = [
    dict(tag="(a)", col="L", row="T", names=["250 nm", "300 nm", "350 nm"],
         yrange=[0.0042, 0.062], yt=[0.01, 0.02, 0.03, 0.04, 0.05, 0.06],
         ytt=["0.01", "0.02", "0.03", "0.04", "0.05", "0.06"]),
    dict(tag="(b)", col="R", row="T", names=["400 nm", "450 nm", "500 nm", "550 nm"],
         yrange=[0.049, 0.368], yt=[0.1, 0.2, 0.3], ytt=["0.1", "0.2", "0.3"]),
    dict(tag="(c)", col="L", row="B", names=["600 nm", "650 nm", "700 nm"],
         yrange=[0.0495, 0.352], yt=[0.05, 0.1, 0.15, 0.2, 0.25, 0.3],
         ytt=["0.05", "0.1", "0.15", "0.2", "0.25", "0.3"]),
    dict(tag="(d)", col="R", row="B", names=["119 nm"],
         yrange=[1.655, 2.727], yt=[1.8, 2.0, 2.2, 2.4, 2.6],
         ytt=["1.8", "2", "2.2", "2.4", "2.6"]),
]

TEXT = "#262626"
AXIS_GREY = "#a6a6a6"
FONT = "Liberation Sans, Arial, Helvetica, sans-serif"

fig = go.Figure()
layout = dict(width=W, height=H, margin=dict(l=0, r=0, t=0, b=0),
              paper_bgcolor="white", plot_bgcolor="white", showlegend=False,
              font=dict(family=FONT, color=TEXT, size=15))
shapes, annotations = [], []

for i, p in enumerate(panels, start=1):
    sfx = "" if i == 1 else str(i)
    xref, yref = "x" + sfx, "y" + sfx
    x0p, x1p = cols[p["col"]]
    y0p, y1p = rows[p["row"]]
    layout["xaxis" + sfx] = dict(
        domain=[fx(x0p), fx(x1p)], anchor=yref, range=[0, 3],
        tickvals=[0, 1, 2, 3], ticktext=["0", "1", "2", "3"],
        ticks="inside", ticklen=4, tickcolor=AXIS_GREY, tickwidth=1,
        showline=True, linecolor=AXIS_GREY, linewidth=2,
        showgrid=False, zeroline=False, ticklabelstandoff=4,
        tickfont=dict(size=15, color=TEXT, family=FONT))
    layout["yaxis" + sfx] = dict(
        domain=[fy(y1p), fy(y0p)], anchor=xref, range=p["yrange"],
        tickvals=p["yt"], ticktext=p["ytt"], ticks="",
        showline=False, showgrid=False, zeroline=False, ticklabelstandoff=4,
        tickfont=dict(size=15, color=TEXT, family=FONT))

    # grey blocks with white gaps around each pillar
    edges = [0.0]
    for c in gap_centers:
        edges += [c - gap_half, c + gap_half]
    edges.append(3.0)
    for a, b in zip(edges[0::2], edges[1::2]):
        shapes.append(dict(type="rect", xref=xref, yref=yref + " domain",
                           x0=a, x1=b, y0=0, y1=1, fillcolor="#f0f0f0",
                           line=dict(width=0), layer="below"))
    for c in gap_centers:
        shapes.append(dict(type="line", xref=xref, yref=yref + " domain",
                           x0=c - 0.015, x1=c + 0.015, y0=1.0, y1=1.0,
                           line=dict(color="#555555", width=2)))
        if p["tag"] == "(d)":
            shapes.append(dict(type="line", xref=xref, yref=yref + " domain",
                               x0=c - 0.015, x1=c + 0.015, y0=0.0, y1=0.0,
                               line=dict(color="#555555", width=2)))
    if p["row"] == "B":
        shapes.append(dict(type="line", xref=xref + " domain", yref=yref + " domain",
                           x0=0, x1=1, y0=1, y1=1,
                           line=dict(color="#c4c4c4", width=1)))

    for name in p["names"]:
        fig.add_trace(go.Scatter(
            x=arc_length, y=series[name], mode="lines", name=name,
            line=dict(color=color_of[name], width=1.1, shape="spline", smoothing=0.5),
            xaxis=xref, yaxis=yref, showlegend=False))

    cx = (x0p + x1p) / 2
    annotations.append(dict(text="<b>" + p["tag"] + "</b>", x=fx(cx), y=fy(y0p - 12),
                            xref="paper", yref="paper", showarrow=False,
                            xanchor="center", yanchor="middle",
                            font=dict(size=16, color="black", family=FONT)))
    annotations.append(dict(text="Arc Length [<i>μ</i>m]", x=fx(cx), y=fy(y1p + 39),
                            xref="paper", yref="paper", showarrow=False,
                            xanchor="center", yanchor="middle",
                            font=dict(size=17, color=TEXT, family=FONT)))
    annotations.append(dict(text="|E| [V/m]", x=fx(ylabel_x[p["col"]]), y=fy((y0p + y1p) / 2),
                            xref="paper", yref="paper", showarrow=False, textangle=-90,
                            xanchor="center", yanchor="middle",
                            font=dict(size=17, color=TEXT, family=FONT)))

# exponent of the (d) axis
annotations.append(dict(text="×10<sup>-3</sup>", x=fx(453), y=fy(292),
                        xref="paper", yref="paper", showarrow=False,
                        xanchor="left", yanchor="middle",
                        font=dict(size=15, color=TEXT, family=FONT)))

# legend box
lg_top, lg_bot, lg_left = 140.0, 344.3, 818.3
shapes.append(dict(type="rect", xref="paper", yref="paper",
                   x0=fx(lg_left), x1=fx(lg_left + 95), y0=fy(lg_bot), y1=fy(lg_top),
                   fillcolor="white", line=dict(color="#a0a0a0", width=1)))
row_step = (335.0 - 150.7) / 10
for k, (lab, colr) in enumerate(zip(wavelength_labels, line_colors)):
    yy = 150.7 + k * row_step
    shapes.append(dict(type="line", xref="paper", yref="paper",
                       x0=fx(820.7), x1=fx(843.3), y0=fy(yy), y1=fy(yy),
                       line=dict(color=colr, width=1.2)))
    annotations.append(dict(text=lab, x=fx(846), y=fy(yy), xref="paper", yref="paper",
                            showarrow=False, xanchor="left", yanchor="middle",
                            font=dict(size=14, color=TEXT, family=FONT)))

layout["shapes"] = shapes
layout["annotations"] = annotations
fig.update_layout(**layout)
fig.write_html("out.html")
